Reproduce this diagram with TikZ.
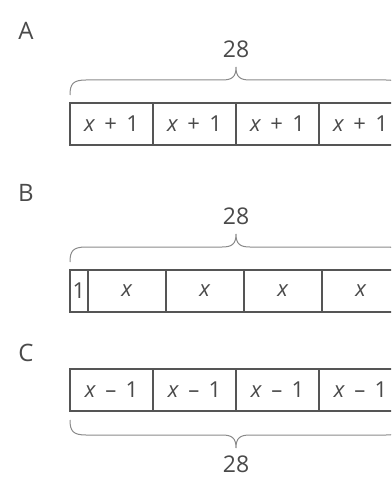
\documentclass[tikz,border=0pt]{standalone}
\usepackage{fontspec}
\setmainfont{Open Sans}
\newcommand{\xop}[1]{\textit{x}\hspace{0.42em}#1\hspace{0.42em}1}
\begin{document}
\begin{tikzpicture}[x=1pt,y=-1pt,
  cell/.style={draw=linegray, line width=1.5pt, minimum height=42pt, inner sep=0pt, anchor=center, text=txtgray, font=\fontsize{22}{24}\selectfont},
  lbl/.style={text=txtgray, font=\fontsize{24}{26}\selectfont, inner sep=0pt},
  num/.style={text=txtgray, font=\fontsize{23}{25}\selectfont, inner sep=0pt},
  brc/.style={draw=bracegray, line width=1pt}]
\definecolor{linegray}{HTML}{555555}
\definecolor{txtgray}{HTML}{4A4A4A}
\definecolor{bracegray}{HTML}{8A8A8A}
\useasboundingbox (0,0) rectangle (391,478);
\clip (0,0) rectangle (391,478);
% A
\node[lbl] (la) at (26,31) {A};
\node[num] (na) at (236,49) {28};
\draw[brc] (70,95) .. controls (70,84) and (73,80) .. (86,80) -- (222,80) .. controls (232,80) and (236,77) .. (236,67) .. controls (236,77) and (240,80) .. (250,80) -- (386,80) .. controls (399,80) and (402,84) .. (402,95);
\node[cell, minimum width=83pt] (a1) at (111.5,124) {\xop{+}};
\node[cell, minimum width=83pt] (a2) at (194.5,124) {\xop{+}};
\node[cell, minimum width=83pt] (a3) at (277.5,124) {\xop{+}};
\node[cell, minimum width=83pt] (a4) at (360.5,124) {\xop{+}};
% B
\node[lbl] (lb) at (26,193) {B};
\node[num] (nb) at (236,216) {28};
\draw[brc] (70,262) .. controls (70,251) and (73,247) .. (86,247) -- (222,247) .. controls (232,247) and (236,244) .. (236,234) .. controls (236,244) and (240,247) .. (250,247) -- (386,247) .. controls (399,247) and (402,251) .. (402,262);
\node[cell, minimum width=18pt] (b0) at (79,291) {1};
\node[cell, minimum width=78pt] (b1) at (127,291) {\textit{x}};
\node[cell, minimum width=78pt] (b2) at (205,291) {\textit{x}};
\node[cell, minimum width=78pt] (b3) at (283,291) {\textit{x}};
\node[cell, minimum width=78pt] (b4) at (361,291) {\textit{x}};
% C
\node[lbl] (lc) at (26,353) {C};
\node[cell, minimum width=83pt] (c1) at (111.5,390) {\xop{–}};
\node[cell, minimum width=83pt] (c2) at (194.5,390) {\xop{–}};
\node[cell, minimum width=83pt] (c3) at (277.5,390) {\xop{–}};
\node[cell, minimum width=83pt] (c4) at (360.5,390) {\xop{–}};
\draw[brc] (70,420) .. controls (70,431) and (73,435) .. (86,435) -- (222,435) .. controls (232,435) and (236,438) .. (236,448) .. controls (236,438) and (240,435) .. (250,435) -- (386,435) .. controls (399,435) and (402,431) .. (402,420);
\node[num] (nc) at (236,464) {28};
\end{tikzpicture}
\end{document}
